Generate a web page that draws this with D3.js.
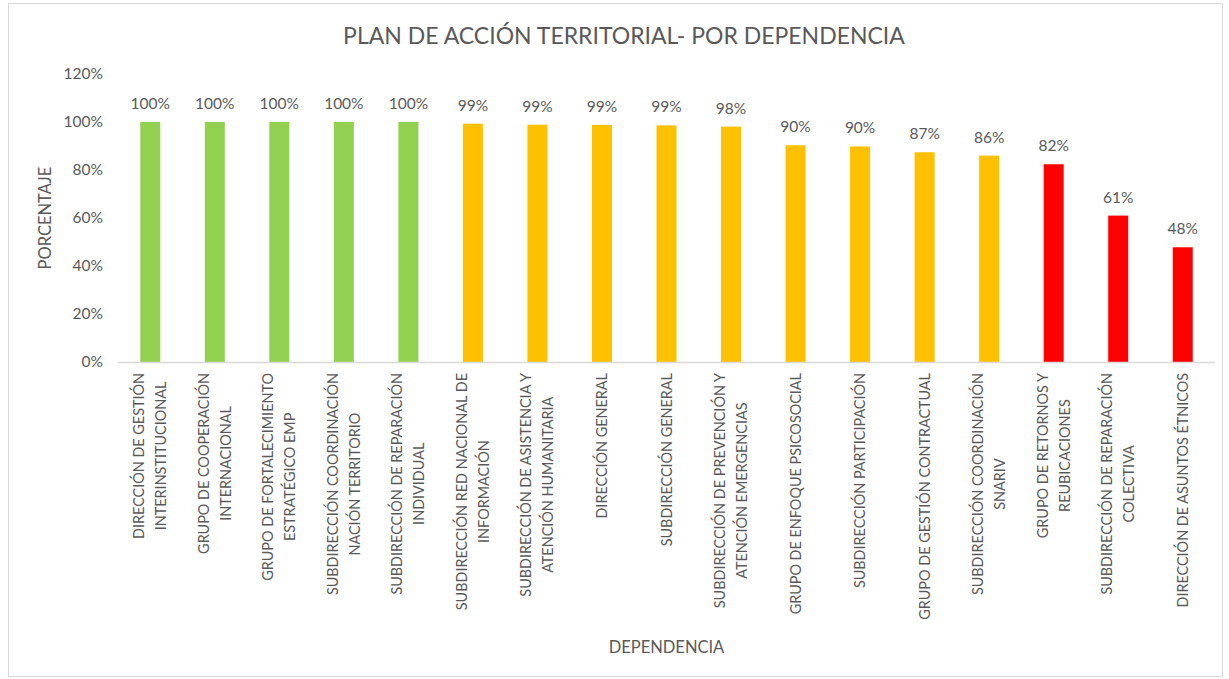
<html>
<head>
    <meta charset="utf-8">
    <title>Plan de acción territorial</title>
    <script src="https://d3js.org/d3.v7.min.js" charset="utf-8"></script>
    <style>
        body {
            margin: 0;
            background: #fff;
            font-family: "Lato", "Open Sans", sans-serif;
        }
        text {
            fill: #595959;
        }
    </style>
</head>
<body>
    <script>
    // categories (line breaks as in the reference)
    var dependencias = [
        "DIRECCIÓN DE GESTIÓN\nINTERINSTITUCIONAL",
        "GRUPO DE COOPERACIÓN\nINTERNACIONAL",
        "GRUPO DE FORTALECIMIENTO\nESTRATÉGICO EMP",
        "SUBDIRECCIÓN COORDINACIÓN\nNACIÓN TERRITORIO",
        "SUBDIRECCIÓN DE REPARACIÓN\nINDIVIDUAL",
        "SUBDIRECCIÓN RED NACIONAL DE\nINFORMACIÓN",
        "SUBDIRECCIÓN DE ASISTENCIA Y\nATENCIÓN HUMANITARIA",
        "DIRECCIÓN GENERAL",
        "SUBDIRECCIÓN GENERAL",
        "SUBDIRECCIÓN DE PREVENCIÓN Y\nATENCIÓN EMERGENCIAS",
        "GRUPO DE ENFOQUE PSICOSOCIAL",
        "SUBDIRECCIÓN PARTICIPACIÓN",
        "GRUPO DE GESTIÓN CONTRACTUAL",
        "SUBDIRECCIÓN COORDINACIÓN\nSNARIV",
        "GRUPO DE RETORNOS Y\nREUBICACIONES",
        "SUBDIRECCIÓN DE REPARACIÓN\nCOLECTIVA",
        "DIRECCIÓN DE ASUNTOS ÉTNICOS"
    ];
    var porcentaje = [1.00, 1.00, 1.00, 1.00, 1.00, 0.993, 0.989, 0.988, 0.986, 0.981,
                      0.903, 0.898, 0.874, 0.860, 0.824, 0.610, 0.478];
    var nivel = ["alto", "alto", "alto", "alto", "alto", "medio", "medio", "medio", "medio", "medio",
                 "medio", "medio", "medio", "medio", "bajo", "bajo", "bajo"];
    var yTicks = [0, 0.2, 0.4, 0.6, 0.8, 1.0, 1.2];

    var colores = { alto: "#92D050", medio: "#FFC000", bajo: "#FF0000" };

    var width = 1229;
    var height = 679;
    var margin = { top: 74, right: 14, bottom: 317, left: 118 };

    var svg = d3.select("body")
        .append("svg")
        .attr("width", width)
        .attr("height", height);

    // chart border
    svg.append("rect")
        .attr("x", 8.5)
        .attr("y", 3.5)
        .attr("width", 1214)
        .attr("height", 673)
        .attr("fill", "#fff")
        .attr("stroke", "#d9d9d9");

    var x = d3.scaleBand()
        .domain(d3.range(dependencias.length))
        .range([margin.left, width - margin.right])
        .paddingInner(0.69)
        .paddingOuter(0.345);

    var y = d3.scaleLinear()
        .domain([0, 1.2])
        .range([height - margin.bottom, margin.top]);

    // title
    svg.append("text")
        .attr("x", 624)
        .attr("y", 44)
        .attr("text-anchor", "middle")
        .style("font-size", "23px")
        .text("PLAN DE ACCIÓN TERRITORIAL- POR DEPENDENCIA");

    // y axis
    var yAxis = svg.append("g")
        .attr("transform", "translate(" + margin.left + ",0)")
        .call(d3.axisLeft(y).tickValues(yTicks).tickFormat(d3.format(".0%")).tickSize(0).tickPadding(15));
    yAxis.select(".domain").remove();
    yAxis.selectAll("text")
        .style("font-size", "15.5px")
        .style("font-family", "Lato, sans-serif")
        .attr("fill", "#595959");

    svg.append("text")
        .attr("transform", "translate(51," + y(0.6) + ") rotate(-90)")
        .attr("text-anchor", "middle")
        .style("font-size", "16.5px")
        .text("PORCENTAJE");

    // bars
    svg.append("g")
        .selectAll("rect")
        .data(porcentaje)
        .enter()
        .append("rect")
        .attr("x", function(d, i) { return x(i); })
        .attr("width", x.bandwidth())
        .attr("y", function(d) { return y(d); })
        .attr("height", function(d) { return y(0) - y(d); })
        .attr("fill", function(d, i) { return colores[nivel[i]]; });

    // data labels
    svg.append("g")
        .selectAll("text")
        .data(porcentaje)
        .enter()
        .append("text")
        .attr("x", function(d, i) { return x(i) + x.bandwidth() / 2; })
        .attr("y", function(d) { return y(d) - 13; })
        .attr("text-anchor", "middle")
        .style("font-size", "15.5px")
        .text(function(d) { return d3.format(".0%")(d); });

    // x axis line
    svg.append("line")
        .attr("x1", margin.left)
        .attr("x2", width - margin.right)
        .attr("y1", y(0) + 0.5)
        .attr("y2", y(0) + 0.5)
        .attr("stroke", "#d9d9d9")
        .attr("stroke-width", 1.3);

    // category labels, rotated, lines centred on each other
    var lineGap = 22;
    var topY = y(0) + 11;
    dependencias.forEach(function(name, i) {
        var lines = name.split("\n");
        var cx = x(i) + x.bandwidth() / 2;
        var g = svg.append("g");
        var texts = lines.map(function(line, k) {
            var off = (k - (lines.length - 1) / 2) * lineGap;
            return g.append("text")
                .attr("text-anchor", "middle")
                .attr("dy", "0.35em")
                .style("font-size", "14.4px")
                .attr("data-off", off)
                .text(line);
        });
        var maxLen = d3.max(texts, function(t) { return t.node().getComputedTextLength(); });
        var cy = topY + maxLen / 2;
        texts.forEach(function(t) {
            var off = +t.attr("data-off");
            t.attr("transform", "translate(" + (cx + off) + "," + cy + ") rotate(-90)");
        });
    });

    svg.append("text")
        .attr("x", (margin.left + width - margin.right) / 2)
        .attr("y", 653)
        .attr("text-anchor", "middle")
        .style("font-size", "16.5px")
        .text("DEPENDENCIA");
    </script>
</body>
</html>
